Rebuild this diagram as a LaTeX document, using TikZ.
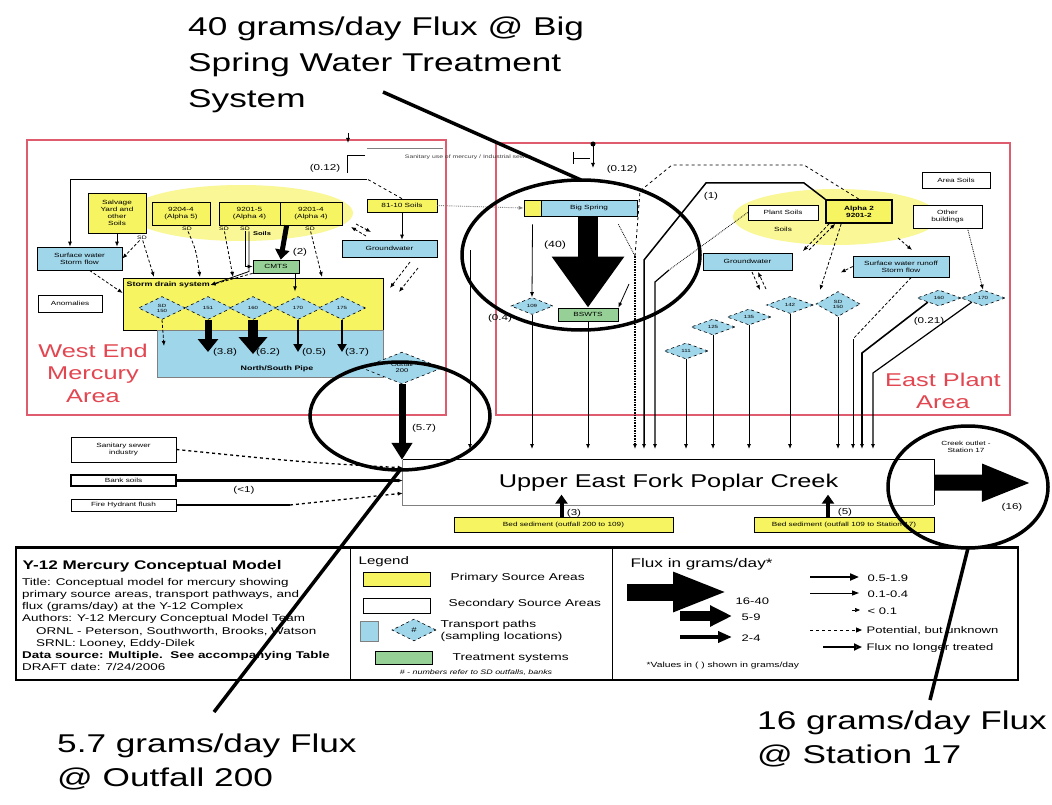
\documentclass[tikz,border=0pt]{standalone}
\usepackage{fontspec}
\setmainfont{Liberation Sans}[FakeStretch=1.37]
\usetikzlibrary{arrows.meta,shapes.geometric}
\definecolor{ylw}{RGB}{246,244,96}
\definecolor{ylwglow}{RGB}{250,247,150}
\definecolor{blu}{RGB}{160,214,234}
\definecolor{grn}{RGB}{150,208,150}
\definecolor{redb}{RGB}{222,92,110}
\definecolor{redt}{RGB}{226,70,80}
\newcommand\fsz[2]{\fontsize{#1}{#2}\selectfont}
\newcommand\mybox[7]{\pgfmathsetmacro\mbw{#4-#2}\pgfmathsetmacro\mbh{#5-#3}%
  \node[#6,minimum width=\mbw pt,minimum height=\mbh pt] (#1) at ({(#2+#4)/2},{(#3+#5)/2}) {#7};}
\tikzset{
  every node/.style={inner sep=0.5pt, align=center},
  lbl/.style={font=\fsz{6}{7}},
  tiny/.style={font=\fsz{5}{6}},
  numl/.style={font=\fsz{8.5}{10}},
  lt/.style={font=\fsz{10}{12}},
  ybx/.style={draw, fill=ylw, line width=0.7pt, lbl},
  bbx/.style={draw, fill=blu, line width=0.7pt, lbl},
  gbx/.style={draw, fill=grn, line width=0.7pt, lbl},
  wbx/.style={draw, fill=white, line width=0.7pt, lbl},
  dia/.style={diamond, draw, dashed, fill=blu, line width=0.6pt, minimum width=44pt, minimum height=16pt, inner sep=0pt, font=\fsz{4.5}{5}},
  redarea/.style={draw=redb, line width=2pt},
  circ/.style={ellipse, draw, line width=3.5pt, inner sep=0pt, outer sep=0pt},
  ptr/.style={line width=3.5pt},
  flow/.style={line width=0.8pt, ->},
  dflow/.style={densely dashed, line width=0.8pt, ->},
}
\begin{document}
\begin{tikzpicture}[x=1pt,y=-1pt,>={Latex[length=5pt,width=4pt]}]
\useasboundingbox (0,0) rectangle (1052,805);
\fill[white] (0,0) rectangle (1052,805);
\coordinate (cTop) at (0,449);

% ---------- annotations ----------
\node[anchor=north west, align=left, font=\fsz{25.7}{36}, inner sep=0pt] (annBig) at (188,17) {40 grams/day Flux @ Big\\Spring Water Treatment\\System};
\node[anchor=north west, align=left, font=\fsz{25.7}{34}, inner sep=0pt] (annOut) at (57,734) {5.7 grams/day Flux\\@ Outfall 200};
\node[anchor=north west, align=left, font=\fsz{25.7}{34}, inner sep=0pt] (annSta) at (757,711) {16 grams/day Flux\\@ Station 17};

% ---------- area frames ----------
\mybox{westA}{27}{140}{446}{415}{redarea}{}
\mybox{eastA}{496}{143}{1010}{415}{redarea}{}
\node[font=\fsz{18.5}{22.5}, text=redt] (westT) at (93,373) {West End\\Mercury\\Area};
\node[font=\fsz{18.5}{22.5}, text=redt] (eastT) at (943,391) {East Plant\\Area};

% ---------- West area ----------
\node[ellipse, fill=ylwglow, minimum width=224pt, minimum height=56pt, inner sep=0pt] (glowW) at (241,213) {};
\mybox{salv}{88}{193}{146}{233}{ybx}{Salvage\\Yard and\\other\\Soils}
\mybox{alA}{152}{202}{210}{225}{ybx}{9204-4\\(Alpha 5)}
\mybox{alB}{219}{202}{280}{225}{ybx}{9201-5\\(Alpha 4)}
\mybox{alC}{280}{202}{342}{225}{ybx}{9201-4\\(Alpha 4)}
\mybox{soilW}{367}{199}{437}{212}{ybx}{81-10 Soils}
\mybox{gwW}{342}{240}{437}{257}{bbx}{Groundwater}
\mybox{sfW}{37}{247}{122}{270}{bbx}{Surface water\\Storm flow}
\mybox{anom}{38}{295}{102}{312}{wbx}{Anomalies}
\mybox{cmts}{253}{260}{299}{273}{gbx}{CMTS}
\mybox{storm}{123}{278}{383}{330}{draw, fill=ylw, line width=0.7pt}{}
\mybox{pipe}{157}{330}{383}{377}{draw=gray, fill=blu, line width=0.5pt}{}
\node[font=\fsz{6.5}{7}\bfseries, anchor=west] (stormT) at (126,285) {Storm drain system};
\node[font=\fsz{6.5}{7}\bfseries] (pipeT) at (277,369) {North/South Pipe};
\node[dia, minimum width=47pt, minimum height=23pt] (sd1) at (162,308) {SD\\150};
\node[dia, minimum width=47pt, minimum height=23pt] (sd2) at (208,308) {151};
\node[dia, minimum width=47pt, minimum height=23pt] (sd3) at (253,308) {160};
\node[dia, minimum width=47pt, minimum height=23pt] (sd4) at (298,308) {170};
\node[dia, minimum width=47pt, minimum height=23pt] (sd5) at (342,308) {175};
\draw[line width=7pt, -{Triangle[width=20pt,length=13pt]}] (sd2.south) -- (208,352);
\draw[line width=10pt, -{Triangle[width=28pt,length=17pt]}] (sd3.south) -- (253,354);
\draw[line width=2.5pt, -{Triangle[width=9pt,length=8pt]}] (sd4.south) -- (298,352);
\draw[line width=2.5pt, -{Triangle[width=9pt,length=8pt]}] (sd5.south) -- (342,352);
\draw[dflow] (sd1.south) -- (164,346);
\node[numl] (f38) at (225,352) {(3.8)};
\node[numl] (f62) at (268,352) {(6.2)};
\node[numl] (f05) at (314,352) {(0.5)};
\node[numl] (f37) at (357,352) {(3.7)};
\node[dia, minimum width=80pt, minimum height=30pt, font=\fsz{5.5}{6}] (of200) at (402,368) {Outfall\\200};

% west connectors
\coordinate (wTop) at (367,179);
\draw[dashed, line width=0.8pt] (soilW.north) -- (wTop);
\draw[flow] (wTop) -| ([xshift=-9.5pt]sfW.north);
\draw[flow] (salv.south) -- (salv.south |- sfW.north);
\draw[flow] (soilW.south) -- (soilW.south |- gwW.north);
\node[tiny] (sdl1) at (142,238) {SD};
\node[tiny] (sdl2) at (187,229) {SD};
\node[tiny] (sdl3) at (224,229) {SD};
\node[tiny] (sdl4) at (245,229) {SD};
\node[tiny] (sdl5) at (310,229) {SD};
\node[font=\fsz{5.5}{6}\bfseries] (soilsW) at (262,234) {Soils};
\draw[dflow] (sdl1) -- (sfW.east);
\draw[dflow] (sdl1) -- (154,277);
\draw[dflow] (sdl2) .. controls (196,250) .. (200,277);
\draw[dflow] (sdl3) -- (233,277);
\draw[flow] (sdl4.south) |- (cmts.west);
\draw[flow] ([xshift=4pt]sdl4.south) -- ++(0,40) -- (stormT.east);
\draw[dflow] (sdl5) -- (322,277);
\draw[line width=5pt, -{Triangle[width=14pt,length=10pt]}] ([xshift=7pt]alC.south west) -- ([xshift=28pt]cmts.north west);
\node[numl] (f2) at (300,252) {(2)};
\draw[flow] ([xshift=19pt]cmts.south) -- ++(0,18);
\draw[dflow] (cmts.south west) -- (stormT.east);
\draw[dflow] ([xshift=10pt]sfW.south) -- ([yshift=11pt]storm.west);
\draw[dflow] (366,236) -- (351,227);
\draw[dflow] (356,224) -- (371,232);
\draw[dflow] (410,262) -- (390,288);
\draw[dflow] (418,268) -- (399,292);

% top bracket west / east
\node[numl] (f012w) at (325,168) {(0.12)};
\draw[line width=0.8pt] (365,155) -- (347,155) -- (347,173);
\draw[gray, line width=0.6pt] (367,148) -- (443,148);
\draw[flow] (348,133) -- (348,143);
\node[font=\fsz{5}{6}, text=black!75] (sanT) at (468,157) {Sanitary use of mercury / Industrial sewer};
\draw[line width=0.8pt] (573,152) -- (573,164);
\draw[line width=0.8pt] (573,158) -- (590,158);
\fill (593,144) circle (2.5);
\draw[flow] (593,144) -- (593,168);
\node[numl] (f012e) at (622,169) {(0.12)};

% ---------- East area ----------
\node[ellipse, fill=ylwglow, minimum width=206pt, minimum height=56pt, inner sep=0pt] (glowE) at (836,217) {};
\mybox{bsY}{524}{200}{541}{216}{ybx}{}
\mybox{bsB}{541}{200}{637}{216}{bbx}{Big Spring}
\draw[gray, densely dotted, line width=0.9pt, ->] (soilW.east) -- (bsY.west);
\mybox{bsw}{558}{308}{618}{321}{gbx}{BSWTS}
\draw[line width=20pt, -{Triangle[width=69pt,length=51pt]}] (bsB.south -| bsw.north) -- (bsw.north);
\node[font=\fsz{9}{10}] (f40) at (555,245) {(40)};
\node[dia, minimum width=42pt, minimum height=17pt] (dE1) at (532,306) {109};
\draw[flow] ([yshift=-8pt]bsY.south) -- (dE1.north);
\node[numl] (f04) at (500,318) {(0.4)};
\draw[flow] (629,284) -- (bsw.north east);
\draw[densely dotted, line width=0.8pt] ([xshift=-19pt,yshift=-8pt]bsB.south east) -- (635,256);

\mybox{pso}{748}{205}{818}{220}{wbx}{Plant Soils}
\node[lbl] (soilsE) at (783,229) {Soils};
\mybox{y12w}{826}{200}{892}{223}{ybx, line width=1.6pt, font=\fsz{6}{7}\bfseries}{Alpha 2\\9201-2}
\mybox{oth}{913}{205}{982}{228}{wbx}{Other\\buildings}
\mybox{areaS}{922}{172}{990}{188}{wbx}{Area Soils}
\mybox{gwE}{703}{253}{792}{270}{bbx}{Groundwater}
\mybox{sfE}{853}{256}{949}{277}{bbx}{Surface water runoff\\Storm flow}

\node[dia] (dDg) at (686,351) {111};
\node[dia] (dDf) at (713,327) {125};
\node[dia] (dDe) at (749,317) {135};
\node[dia, minimum width=47pt, minimum height=17pt] (dDa) at (790,305) {142};
\node[dia, minimum width=44pt, minimum height=25pt] (dDb) at (838,304) {SD\\150};
\node[dia] (dDc) at (939,298) {160};
\node[dia] (dDd) at (983,298) {170};

% lines to the creek
\draw[flow] (dE1.south) -- (dE1.south |- cTop);
\draw[flow] (bsw.south) -- (bsw.south |- cTop);
\draw[densely dotted, line width=1.6pt, ->] (635,256) -- (635,449);
\draw[dashed, line width=0.8pt] (635,256) -- (640,191) -- (672,165) -- (804,165) -- (y12w.north);
\draw[line width=1.5pt, ->] (y12w.north west) -- (804,183) -- (706,183) -- (644,260) -- (644,449);
\node[numl] (f1) at (711,196) {(1)};
\draw[densely dotted, line width=0.8pt] (pso.west) -- (669,270);
\draw[line width=1.2pt, ->] (669,270) -- (655,282) -- (655,449);
\draw[flow] (dDg.south) -- (dDg.south |- cTop);
\draw[flow] (dDf.south) -- (dDf.south |- cTop);
\draw[flow] (dDe.south) -- (dDe.south |- cTop);
\draw[flow] (dDa.south) -- (dDa.south |- cTop);
\draw[flow] (dDb.south) -- (dDb.south |- cTop);
\draw[densely dashed, line width=0.8pt] ([xshift=-38pt]sfE.south east) -- (853,339);
\draw[flow] (853,339) -- (853,449);
\draw[line width=1.6pt, ->] (dDc.south west) -- (862,353) -- (862,449);
\draw[line width=1.2pt, ->] (dDd.south west) -- (873,373) -- (873,449);
\node[numl] (f021) at (929,321) {(0.21)};

% east dashed connectors
\draw[dflow] ([xshift=4pt]y12w.south west) -- (803,251);
\draw[dflow] (809,250) -- ([xshift=10pt]y12w.south west);
\draw[dflow] ([xshift=16pt]y12w.south west) -- (820,290);
\draw[dflow] (898,238) -- (912,250);
\draw[densely dotted, line width=0.8pt, ->] ([xshift=20pt]oth.south) -- (dDd.north);
\draw[dflow] (sfE.west) -- ++(-12,6);
\draw[dflow] (752,272) -- (760,290);
\draw[dflow] (766,289) -- (758,272);

% ---------- creek ----------
\node[font=\fsz{18.5}{20}, minimum width=531pt, minimum height=45pt, inner sep=0pt] (creek) at (668.5,482.5) {Upper East Fork Poplar Creek};
\draw[line width=0.8pt] (creek.north west) -- (creek.north east) -- (creek.south east);
\draw[gray, line width=0.8pt] (creek.north west) -- (creek.south west) -- (creek.south east);
\draw[line width=7pt, -{Triangle[width=20pt,length=17pt]}] (of200.south) -- (of200.south |- creek.north);
\node[numl] (f57) at (424,428) {(5.7)};
\coordinate (srcX) at (470,250);
\draw[flow] (srcX) -- (srcX |- cTop);

\mybox{sanit}{71}{437}{176}{462}{wbx}{Sanitary sewer\\industry}
\mybox{bank}{71}{475}{176}{486}{wbx, line width=1.2pt}{Bank soils}
\mybox{fire}{71}{499}{176}{511}{wbx}{Fire Hydrant flush}
\draw[dashed, line width=1.3pt, ->] (sanit.east) .. controls (300,462) .. ([yshift=-8pt]creek.north west);
\draw[line width=3pt, ->] (bank.east) -- (bank.east -| creek.west);
\draw[line width=1.3pt] (fire.east) -- (290,505);
\draw[dashed, line width=1.3pt, ->] (290,505) -- ([yshift=12pt]creek.south west);
\node[numl] (flt1) at (244,490) {(<1)};

\mybox{bed1}{454}{517}{673}{532}{ybx}{Bed sediment (outfall 200 to 109)}
\mybox{bed2}{754}{517}{934}{532}{ybx}{Bed sediment (outfall 109 to Station 17)}
\draw[line width=4pt, -{Triangle[width=12pt,length=9pt]}] ([xshift=-2pt]bed1.north) -- ++(0,-22);
\node[numl] (f3) at (574,513) {(3)};
\draw[line width=4pt, -{Triangle[width=12pt,length=9pt]}] ([xshift=-16pt]bed2.north) -- ++(0,-22);
\node[numl] (f5) at (845,512) {(5)};
\draw[line width=16pt, -{Triangle[width=34pt,length=50pt]}] (creek.east) -- (1032,483);
\node[lbl] (st17) at (966,447) {Creek outlet -\\Station 17};
\node[numl] (f16) at (1012,507) {(16)};

% ---------- legend ----------
\mybox{legbox}{16}{548}{1018}{680}{draw, line width=1.5pt}{}
\draw[line width=3pt] (legbox.north west) -- (legbox.north east);
\draw[line width=0.8pt] (350,548) -- (350,680);
\draw[line width=0.8pt] (612,548) -- (612,680);
\node[anchor=base west, font=\fsz{12.5}{14}\bfseries] (ttl) at (22,569) {Y-12 Mercury Conceptual Model};
\node[anchor=north west, align=left, font=\fsz{9.8}{12.2}, inner sep=0pt] (tbody) at (22,578) {Title: Conceptual model for mercury showing\\primary source areas, transport pathways, and\\flux (grams/day) at the Y-12 Complex\\Authors: Y-12 Mercury Conceptual Model Team\\\hspace*{14pt}ORNL - Peterson, Southworth, Brooks, Watson\\\hspace*{14pt}SRNL: Looney, Eddy-Dilek\\\textbf{Data source: Multiple.\ \ See accompanying Table}\\DRAFT date: 7/24/2006};

\node[anchor=base west, font=\fsz{11}{13}] (legT) at (358,564) {Legend};
\mybox{lgY}{363}{572}{430}{586}{draw, fill=ylw, line width=0.8pt}{}
\node[lt, anchor=west] (lgYt) at (450,578) {Primary Source Areas};
\mybox{lgW}{363}{598}{430}{613}{draw, fill=white, line width=0.8pt}{}
\node[lt, anchor=west] (lgWt) at (448,604) {Secondary Source Areas};
\mybox{lgB}{360}{621}{378}{641}{draw=gray, fill=blu}{}
\node[dia, minimum width=44pt, minimum height=22pt, font=\fsz{7}{8}] (lgD) at (414,630) {\#};
\node[lt, anchor=west, align=left] (lgBt) at (440,631) {Transport paths\\(sampling locations)};
\mybox{lgG}{375}{651}{432}{664}{draw, fill=grn, line width=0.8pt}{}
\node[lt, anchor=west] (lgGt) at (452,658) {Treatment systems};
\node[font=\fsz{6.5}{7}\itshape] (lgfoot) at (476,673) {\# - numbers refer to SD outfalls, banks};

\node[anchor=base west, font=\fsz{12.5}{14}] (fluxT) at (630,567) {Flux in grams/day*};
\coordinate (la1) at (627,592); \coordinate (lb1) at (728,592);
\draw[line width=17pt, -{Triangle[width=36pt,length=55pt]}] (la1) -- (lb1);
\node[font=\fsz{9.5}{11}, anchor=west] (l1) at (735,601) {16-40};
\coordinate (la2) at (680,616); \coordinate (lb2) at (732,616);
\draw[line width=10pt, -{Triangle[width=20pt,length=22pt]}] (la2) -- (lb2);
\node[font=\fsz{9.5}{11}, anchor=west] (l2) at (741,617) {5-9};
\coordinate (la3) at (680,637); \coordinate (lb3) at (732,637);
\draw[line width=4pt, -{Triangle[width=11pt,length=14pt]}] (la3) -- (lb3);
\node[font=\fsz{9.5}{11}, anchor=west] (l3) at (741,638) {2-4};
\coordinate (la4) at (810,577); \coordinate (lb4) at (859,577);
\draw[line width=2pt, -{Triangle[width=7pt,length=9pt]}] (la4) -- (lb4);
\node[font=\fsz{9.5}{11}, anchor=west] (l4) at (867,578) {0.5-1.9};
\coordinate (la5) at (810,593); \coordinate (lb5) at (859,593);
\draw[line width=1pt, -{Triangle[width=5pt,length=7pt]}] (la5) -- (lb5);
\node[font=\fsz{9.5}{11}, anchor=west] (l5) at (867,594) {0.1-0.4};
\coordinate (la6) at (852,610); \coordinate (lb6) at (860,610);
\draw[line width=0.6pt, -{Triangle[width=4pt,length=5pt]}] (la6) -- (lb6);
\node[font=\fsz{9.5}{11}, anchor=west] (l6) at (867,611) {< 0.1};
\coordinate (la7) at (810,630); \coordinate (lb7) at (862,630);
\draw[dashed, line width=1pt, -{Triangle[width=5pt,length=6pt]}] (la7) -- (lb7);
\node[font=\fsz{9.5}{11}, anchor=west] (l7) at (866,631) {Potential, but unknown};
\coordinate (la8) at (823,647); \coordinate (lb8) at (862,647);
\draw[line width=2pt, -{Triangle[open,width=7pt,length=8pt]}] (la8) -- (lb8);
\node[font=\fsz{9.5}{11}, anchor=west] (l8) at (866,648) {Flux no longer treated};
\node[font=\fsz{7.5}{9}, anchor=west] (lfoot) at (646,666) {*Values in ( ) shown in grams/day};

% ---------- highlight ellipses and pointers ----------
\node[circ, minimum width=238pt, minimum height=150pt] (circBig) at (581,255) {};
\node[circ, minimum width=180pt, minimum height=108pt] (circOut) at (400,416) {};
\node[circ, minimum width=160pt, minimum height=122pt] (circSta) at (968,487) {};
\coordinate (p1) at (383,92);
\coordinate (p2) at (214,712);
\coordinate (p3) at (930,700);
\draw[ptr] (p1) -- (circBig.north);
\draw[ptr] (p2) -- (circOut.south);
\draw[ptr] (p3) -- (circSta.south);
\end{tikzpicture}
\end{document}
